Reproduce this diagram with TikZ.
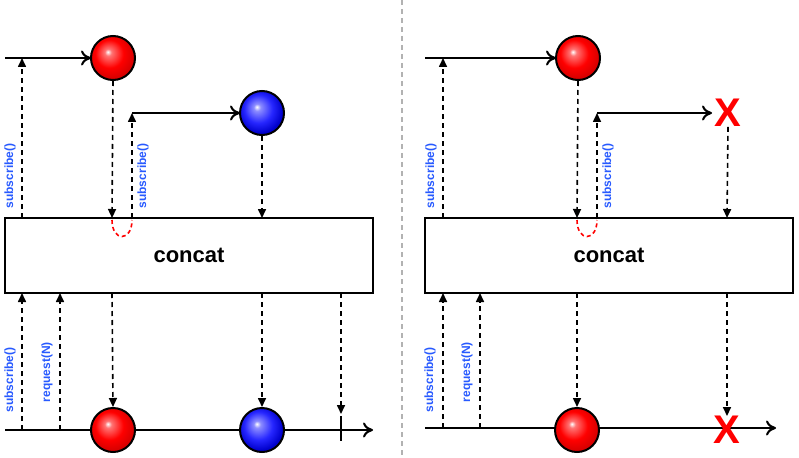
\documentclass[tikz,border=0pt]{standalone}
\usepackage{fontspec}
\setmainfont{Liberation Sans}
\usetikzlibrary{arrows.meta}
\pgfdeclareradialshading{rball}{\pgfpoint{-6bp}{7bp}}{color(0bp)=(white); color(4bp)=(red!55!white); color(16bp)=(red); color(26bp)=(red!85!black); color(50bp)=(red!85!black)}
\pgfdeclareradialshading{bball}{\pgfpoint{-6bp}{7bp}}{color(0bp)=(white); color(4bp)=(blue!45!white); color(16bp)=(blue!85!white); color(26bp)=(blue!80!black); color(50bp)=(blue!80!black)}
\begin{document}
\begin{tikzpicture}[x=1pt,y=-1pt,
  tl/.style={line width=2pt,-{To[length=10pt,width=15pt,line width=2pt]}},
  dl/.style={dash pattern=on 5pt off 4pt,line width=1.6pt,-{Triangle[length=9pt,width=8pt]}},
  ballr/.style={circle,draw=black,line width=2pt,minimum size=44pt,inner sep=0,shading=rball},
  ballb/.style={circle,draw=black,line width=2pt,minimum size=44pt,inner sep=0,shading=bball},
  xm/.style={text=red,font=\bfseries\fontsize{40}{40}\selectfont,inner sep=0},
  lab/.style={text={rgb,255:red,40;green,90;blue,255},font=\bfseries\fontsize{12}{12}\selectfont,rotate=90,inner sep=0},
  box/.style={draw=black,line width=2pt,minimum width=368pt,minimum height=75pt,inner sep=0,font=\bfseries\fontsize{22}{22}\selectfont}]
\useasboundingbox (0,0) rectangle (799,457);
\draw[gray!60,dash pattern=on 5pt off 4pt,line width=1.2pt] (402,0) -- (402,457);
% left
\node[box] (bx) at (189,255.5) {concat};
\coordinate (s1) at (5,58);
\coordinate (a1w) at (91,58);
\draw[tl] (s1) -- (a1w);
\coordinate (s2) at (132,113);
\coordinate (b1w) at (240,113);
\draw[tl] (s2) -- (b1w);
\node[ballr] (a1) at (113,58) {};
\node[ballb] (b1) at (262,113) {};
\draw[dl] (22,218) -- (22,58);
\draw[dl] (a1.south) -- (112,218);
\draw[dl] (132,218) -- (s2);
\draw[red,dash pattern=on 4pt off 3pt,line width=1.6pt] (112,220) .. controls (112,242) and (132,242) .. (132,220);
\draw[dl] (b1.south) -- (262,218);
\node[lab] at (10,176) {subscribe()};
\node[lab] at (143,176) {subscribe()};
\coordinate (e1) at (5,430);
\coordinate (e2) at (373,430);
\draw[tl] (e1) -- (e2);
\node[ballr] (a2) at (113,430) {};
\node[ballb] (b2) at (262,430) {};
\draw[dl] (112,293) -- (a2.north);
\draw[dl] (262,293) -- (b2.north);
\draw[dl] (341,293) -- (341,414);
\draw[line width=2pt] (341,416) -- (341,441);
\draw[dl] (22,430) -- (22,293);
\draw[dl] (60,430) -- (60,293);
\node[lab] at (10,380) {subscribe()};
\node[lab] at (47,372) {request(N)};
% right
\node[box] (bx2) at (609,255.5) {concat};
\coordinate (t1) at (425,58);
\coordinate (c1w) at (556,58);
\draw[tl] (t1) -- (c1w);
\coordinate (t2) at (597,113);
\coordinate (x1w) at (712,113);
\draw[tl] (t2) -- (x1w);
\node[ballr] (c1) at (578,58) {};
\node[xm] (x1) at (728,113) {X};
\draw[dl] (443,218) -- (443,58);
\draw[dl] (c1.south) -- (577,218);
\draw[dl] (597,218) -- (t2);
\draw[red,dash pattern=on 4pt off 3pt,line width=1.6pt] (577,220) .. controls (577,242) and (597,242) .. (597,220);
\draw[dl] (x1.south) -- (727,218);
\node[lab] at (431,176) {subscribe()};
\node[lab] at (608,176) {subscribe()};
\coordinate (f1) at (425,428);
\coordinate (f2) at (776,428);
\draw[tl] (f1) -- (f2);
\node[ballr] (c2) at (577,430) {};
\node[xm] (x2) at (727,430) {X};
\draw[dl] (577,293) -- (c2.north);
\draw[dl] (727,293) -- (x2.north);
\draw[dl] (443,428) -- (443,293);
\draw[dl] (480,428) -- (480,293);
\node[lab] at (430,380) {subscribe()};
\node[lab] at (467,372) {request(N)};
\end{tikzpicture}
\end{document}
